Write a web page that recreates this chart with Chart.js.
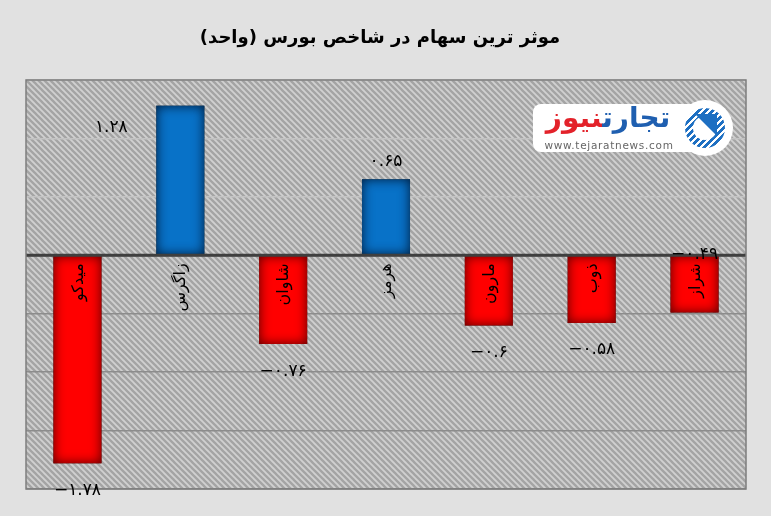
<!DOCTYPE html>
<html>
<head>
<meta charset="utf-8">
<script src="https://cdn.jsdelivr.net/npm/chart.js@4/dist/chart.umd.min.js"></script>
<style>
  html, body { margin: 0; padding: 0; background: #e1e1e1; }
  #wrap { position: relative; width: 771px; height: 516px; }
  #logo { position: absolute; left: 533px; top: 100px; width: 200px; height: 56px; }
  #logo .pill { position: absolute; left: 0; top: 4px; width: 175px; height: 48px; background: #fff; border-radius: 8px; }
  #logo .circ { position: absolute; left: 144px; top: 0; width: 56px; height: 56px; background: #fff; border-radius: 50%; }
  #logo .icon { position: absolute; left: 152px; top: 8px; width: 40px; height: 40px; border-radius: 50%;
     background: repeating-linear-gradient(135deg, #1d6fc2 0 3px, #ffffff 3px 5px); }
  #logo .icon2 { position: absolute; left: 160px; top: 16px; width: 24px; height: 24px; border-radius: 50%; background: #fff; }
  #logo .arrow { position: absolute; left: 162px; top: 14px; width: 0; height: 0; border-left: 22px solid transparent; border-top: 22px solid #1d6fc2; }
  #logo .name { position: absolute; left: 4px; top: 0px; width: 142px; text-align: center; font: bold 28px "DejaVu Sans", sans-serif; direction: rtl; white-space: nowrap; line-height: 36px; }
  #logo .name .b { color: #1f5fb0; }
  #logo .name .r { color: #e3222a; }
  #logo .url { position: absolute; left: 8px; top: 39px; width: 136px; text-align: center; font: 10.5px "DejaVu Sans", sans-serif; color: #666; letter-spacing: 0.7px; }
</style>
</head>
<body>
<div id="wrap">
  <canvas id="c" width="771" height="516"></canvas>
  <div id="logo">
    <div class="pill"></div>
    <div class="circ"></div>
    <div class="icon"></div>
    <div class="icon2"></div>
    <div class="arrow"></div>
    <div class="name"><span class="b">تجارت</span><span class="r">نیوز</span></div>
    <div class="url">www.tejaratnews.com</div>
  </div>
</div>
<script>
const chartTitle = 'موثر ترین سهام در شاخص بورس (واحد)';
const categories = ['میدکو', 'زاگرس', 'شاوان', 'هرمز', 'مارون', 'ذوب', 'شراز'];
const values = [-1.78, 1.28, -0.76, 0.65, -0.6, -0.58, -0.49];
const yMin = -2;
const yMax = 1.5;
const yStep = 0.5;

function toFa(v) {
  const d = '۰۱۲۳۴۵۶۷۸۹';
  const s = String(Math.abs(v)).replace(/[0-9]/g, c => d[+c]);
  return (v < 0 ? '−' : '') + s;
}

const stripe = (function () {
  const s = 6;
  const c = document.createElement('canvas');
  c.width = s; c.height = s;
  const g = c.getContext('2d');
  g.fillStyle = '#d0d0d0';
  g.fillRect(0, 0, s, s);
  g.strokeStyle = '#a4a4a4';
  g.lineWidth = 2.3;
  g.beginPath();
  g.moveTo(-s, -s); g.lineTo(2 * s, 2 * s);
  g.moveTo(-s, 0); g.lineTo(s, 2 * s);
  g.moveTo(0, -s); g.lineTo(2 * s, s);
  g.stroke();
  return c;
})();

const deco = {
  id: 'deco',
  beforeDraw(chart) {
    const c = chart.ctx, a = chart.chartArea;
    c.save();
    c.fillStyle = '#e1e1e1';
    c.fillRect(0, 0, chart.width, chart.height);
    c.fillStyle = c.createPattern(stripe, 'repeat');
    c.fillRect(a.left, a.top, a.right - a.left, a.bottom - a.top);
    c.restore();
  },
  afterDatasetsDraw(chart) {
    const c = chart.ctx, a = chart.chartArea;
    const ys = chart.scales.y;
    const y0 = ys.getPixelForValue(0);
    const meta = chart.getDatasetMeta(0);
    c.save();
    // inner glow on bars
    meta.data.forEach((bar, i) => {
      const x1 = bar.x - bar.width / 2, x2 = bar.x + bar.width / 2;
      const t = Math.min(bar.y, bar.base), b = Math.max(bar.y, bar.base);
      c.save();
      c.beginPath();
      c.rect(x1, t, x2 - x1, b - t);
      c.clip();
      c.beginPath();
      c.rect(x1 - 40, t - 40, x2 - x1 + 80, b - t + 80);
      c.rect(x1, t, x2 - x1, b - t);
      c.shadowColor = values[i] < 0 ? 'rgba(80,0,0,1)' : 'rgba(0,25,55,1)';
      c.shadowBlur = 12;
      c.fillStyle = '#000';
      c.fill('evenodd');
      c.restore();
    });
    // zero line
    c.strokeStyle = '#3f3f3f';
    c.lineWidth = 3;
    c.beginPath();
    c.moveTo(a.left, y0); c.lineTo(a.right, y0);
    c.stroke();
    // frame
    c.strokeStyle = '#7d7d7d';
    c.lineWidth = 1.5;
    c.strokeRect(a.left, a.top, a.right - a.left, a.bottom - a.top);
    // category labels (rotated)
    c.fillStyle = '#000';
    c.font = '16px "DejaVu Sans", sans-serif';
    meta.data.forEach((bar, i) => {
      c.save();
      c.translate(bar.x + 1, y0 + 8);
      c.rotate(-Math.PI / 2);
      c.direction = 'rtl';
      c.textAlign = 'right';
      c.textBaseline = 'middle';
      c.fillText(categories[i], 0, 0);
      c.restore();
    });
    // value labels
    c.font = '17px "DejaVu Sans", sans-serif';
    c.textAlign = 'center';
    c.textBaseline = 'middle';
    c.direction = 'ltr';
    meta.data.forEach((bar, i) => {
      const v = values[i];
      let x = bar.x, y;
      if (v >= 0) y = bar.y - 18; else y = bar.y + 27;
      if (i === 1) { x = bar.x - 69; y = bar.y + 22; }
      if (i === 6) { x = bar.x; y = y0 - 1; }
      c.fillText(toFa(v), x, y);
    });
    // title
    c.font = 'bold 18px "DejaVu Sans", sans-serif';
    c.direction = 'rtl';
    c.textAlign = 'center';
    c.fillText(chartTitle, 380, 38);
    c.restore();
  }
};

new Chart(document.getElementById('c'), {
  type: 'bar',
  data: {
    labels: categories,
    datasets: [{
      data: values,
      backgroundColor: ctx => (values[ctx.dataIndex] < 0 ? '#ff0000' : '#0872c8'),
      borderWidth: 0,
      categoryPercentage: 1,
      barPercentage: 0.467
    }]
  },
  options: {
    responsive: false,
    animation: false,
    events: [],
    layout: { padding: { left: 26, right: 25, top: 80, bottom: 27 } },
    plugins: { legend: { display: false }, tooltip: { enabled: false }, title: { display: false } },
    scales: {
      x: {
        display: true,
        grid: { display: false, drawTicks: false },
        border: { display: false },
        ticks: { display: false },
        afterFit: s => { s.height = 0; }
      },
      y: {
        min: yMin, max: yMax,
        ticks: { display: false, stepSize: yStep },
        border: { display: false },
        grid: {
          drawTicks: false,
          color: ctx => (ctx.tick && ctx.tick.value > 0 ? '#c4c4c4' : '#8c8c8c'),
          lineWidth: 1.5
        },
        afterFit: s => { s.width = 0; }
      }
    }
  },
  plugins: [deco]
});
</script>
</body>
</html>
